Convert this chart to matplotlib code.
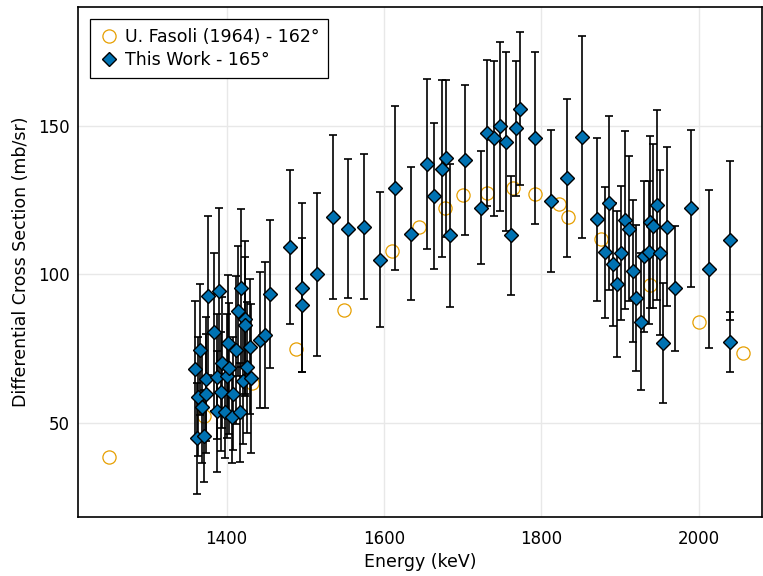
import numpy as np
import matplotlib
matplotlib.use("Agg")
from matplotlib import pyplot as plt

# U. Fasoli (1964), 162 deg
fasoli_e = [1251, 1371, 1432, 1488, 1549, 1611, 1645, 1678, 1701, 1731,
            1764, 1792, 1823, 1834, 1876, 1938, 2001, 2056]
fasoli_xs = [38.6, 52.4, 63.5, 74.9, 88.0, 108.0, 116.0, 122.5, 126.8, 127.5,
             129.0, 127.0, 123.7, 119.2, 111.8, 96.6, 84.0, 73.6]

# this work, 165 deg
work_e = [1360.0, 1362.7, 1364.3, 1366.5, 1369.0, 1371.1, 1374.5, 1374.5, 1376.2, 1384.3,
          1387.3, 1388.1, 1391.0, 1393.2, 1394.9, 1398.7, 1400.8, 1402.5, 1403.0, 1407.3,
          1408.0, 1411.5, 1414.0, 1417.0, 1418.2, 1420.8, 1423.0, 1423.8, 1426.3, 1429.7,
          1430.6, 1442.4, 1448.8, 1455.6,
          1480.6, 1495.5, 1495.5, 1515.5, 1535.0, 1554.5, 1575.0, 1595.0, 1614.4, 1634.4,
          1654.4, 1664.0, 1674.0, 1679.5, 1684.0, 1703.0, 1723.6, 1730.8, 1739.6, 1747.2,
          1755.0, 1761.8, 1767.5, 1772.6, 1792.0, 1812.7, 1832.2, 1851.7,
          1871.3, 1881.3, 1886.0, 1891.5, 1896.3, 1901.3, 1906.0, 1911.3, 1916.8, 1921.0,
          1926.5, 1931.0, 1937.0, 1938.8, 1942.0, 1947.0, 1951.0, 1955.0, 1960.5, 1970.0,
          1990.0, 2012.8, 2039.5, 2039.5]
work_xs = [68.1, 44.8, 58.9, 74.7, 55.5, 45.7, 64.8, 59.8, 92.9, 80.6,
           65.6, 54.0, 94.4, 60.6, 70.3, 53.6, 65.8, 76.8, 68.4, 52.1,
           59.8, 74.6, 87.7, 53.6, 95.4, 64.1, 85.1, 82.9, 68.7, 75.7,
           65.0, 77.9, 79.6, 93.4,
           109.2, 95.5, 89.7, 100.0, 119.3, 115.4, 116.1, 105.0, 129.0, 113.7,
           137.3, 126.4, 135.6, 139.0, 113.1, 138.4, 122.4, 147.5, 145.8, 149.9,
           144.7, 113.1, 149.1, 155.8, 145.9, 124.7, 132.5, 146.2,
           118.5, 107.4, 124.1, 103.4, 96.9, 107.3, 118.2, 115.4, 101.1, 92.0,
           84.1, 106.1, 107.4, 117.7, 116.3, 123.3, 107.3, 76.9, 116.1, 95.3,
           122.2, 101.8, 111.5, 77.3]
work_err = [23.0, 18.7, 20.0, 22.0, 19.0, 15.5, 21.0, 20.0, 26.6, 26.6,
            21.0, 20.4, 28.0, 20.0, 22.0, 15.5, 21.0, 23.0, 22.0, 15.7,
            19.0, 25.0, 22.0, 16.6, 26.6, 21.0, 26.0, 23.0, 22.0, 22.6,
            25.0, 23.0, 24.6, 25.0,
            26.0, 28.5, 22.5, 27.5, 27.5, 23.5, 24.5, 22.8, 27.5, 22.3,
            28.6, 24.5, 29.8, 26.4, 24.0, 25.2, 19.0, 24.5, 26.0, 28.4,
            30.0, 20.0, 22.8, 25.6, 29.0, 24.0, 26.5, 34.0,
            27.5, 22.0, 29.2, 20.6, 24.6, 22.6, 30.0, 24.4, 24.0, 24.6,
            23.0, 25.4, 24.0, 29.0, 27.7, 32.0, 27.7, 20.3, 26.8, 21.0,
            26.4, 26.6, 26.7, 10.0]

fig = plt.figure(figsize=(7.63, 5.76), dpi=100)
ax = fig.add_axes([0.102, 0.102, 0.897, 0.886])

ax.plot(fasoli_e, fasoli_xs, 'o', mfc='none', mec='#E69F00', mew=0.9, ms=9.5,
        label='U. Fasoli (1964) - 162°', zorder=1.5)
ax.errorbar(work_e, work_xs, yerr=work_err, fmt='none', ecolor='black',
            elinewidth=1.2, capsize=3.0, capthick=1.2, zorder=2)
ax.plot(work_e, work_xs, 'D', mfc='#0072B2', mec='black', mew=1.0, ms=7.6,
        linestyle='none', label='This Work - 165°', zorder=4)

ax.set_xlim(1211, 2081)
ax.set_ylim(18.3, 190)
ax.set_xticks([1400, 1600, 1800, 2000])
ax.set_yticks([50, 100, 150])
ax.grid(True, color='#e8e8e8', linewidth=1.0, zorder=0)
ax.set_axisbelow(True)
ax.tick_params(axis='x', length=0, labelsize=12, pad=9)
ax.tick_params(axis='y', length=0, labelsize=12, pad=6)
for s in ax.spines.values():
    s.set_linewidth(1.2)

ax.set_xlabel('Energy (keV)', fontsize=12.5, labelpad=4)
ax.set_ylabel('Differential Cross Section (mb/sr)', fontsize=12.5, labelpad=6)

leg = ax.legend(loc='upper left', fontsize=12.5, frameon=True, fancybox=False,
                edgecolor='black', framealpha=1, handletextpad=0.3,
                borderpad=0.5, labelspacing=0.3, handlelength=1.2,
                borderaxespad=0.7)
leg.get_frame().set_linewidth(0.9)

plt.savefig('out.png', dpi=100)
